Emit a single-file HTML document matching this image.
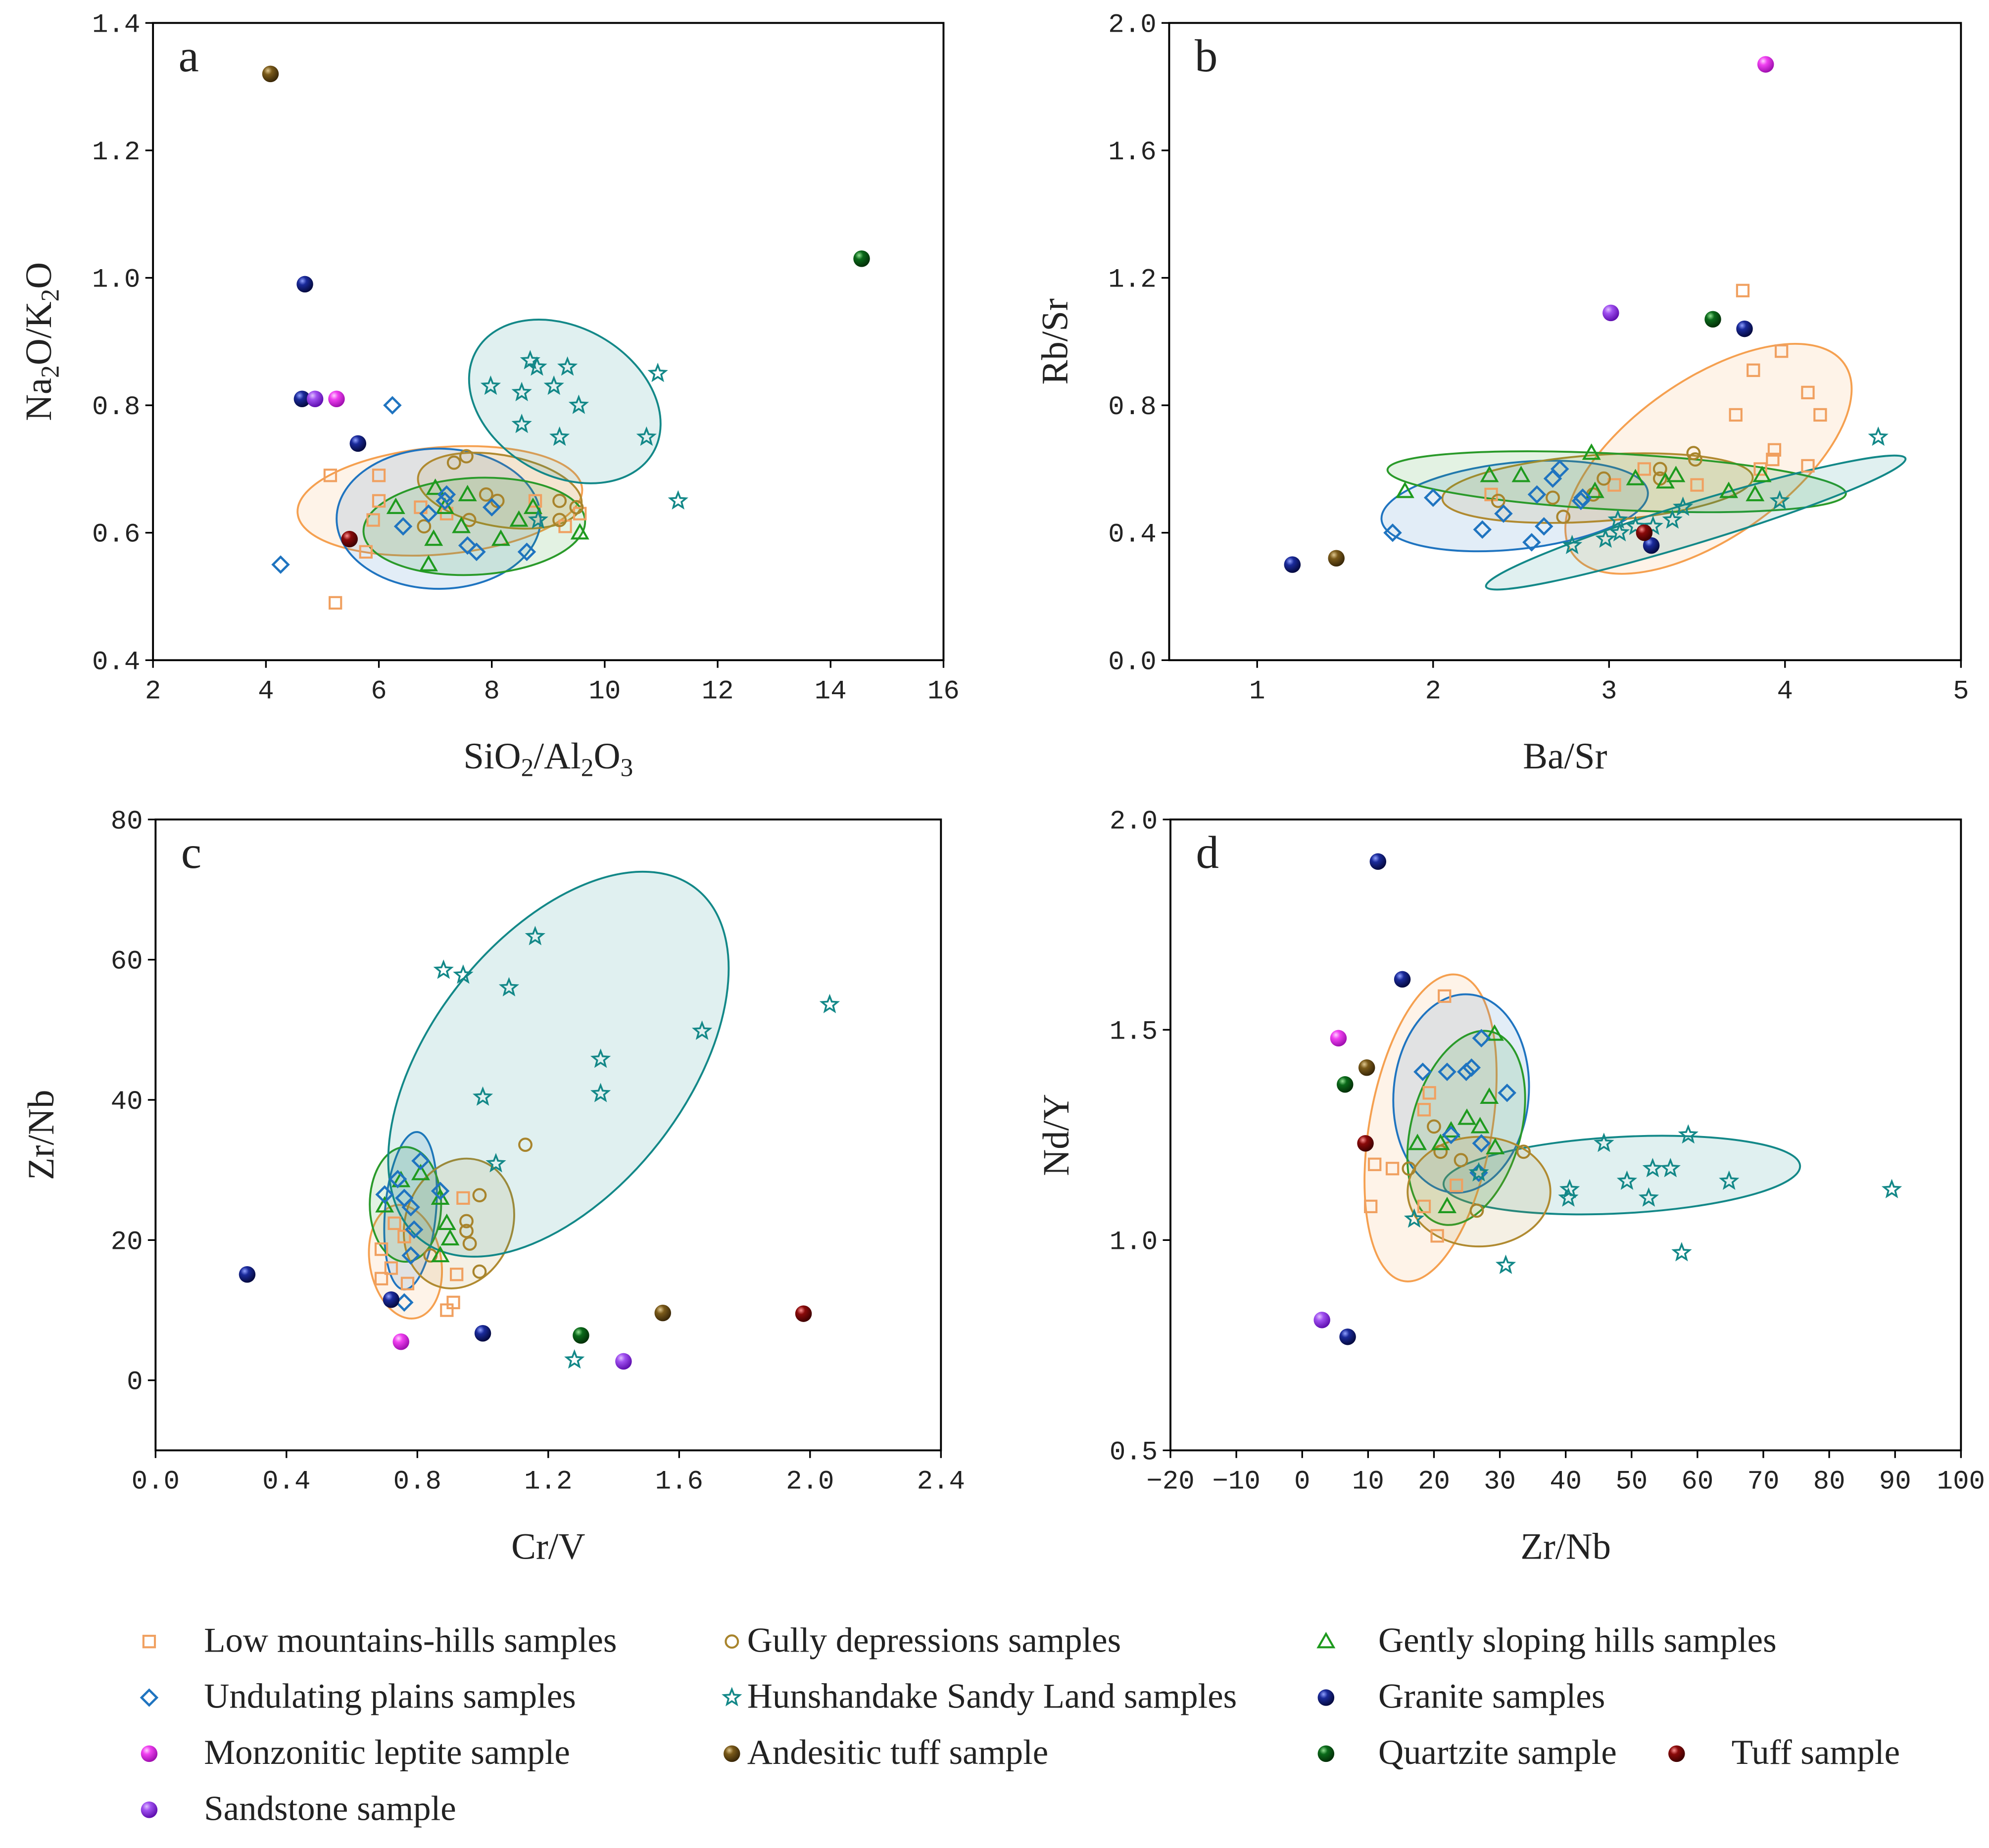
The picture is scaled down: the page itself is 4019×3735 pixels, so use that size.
<!DOCTYPE html>
<html><head><meta charset="utf-8"><style>
html,body{margin:0;padding:0;background:#fff;}
svg{display:block;}
text{font-family:"Liberation Serif",serif;fill:#222;}
.tick{font-family:"Liberation Mono",monospace;}
</style></head><body>
<svg id="fig" width="4019" height="3735" viewBox="0 0 1560 1450" preserveAspectRatio="none" xmlns="http://www.w3.org/2000/svg">
<defs>
<radialGradient id="g-granite" cx="35%" cy="30%" r="70%"><stop offset="0" stop-color="#8fa0ff"/><stop offset="0.35" stop-color="#1a2a9a"/><stop offset="1" stop-color="#050a40"/></radialGradient>
<radialGradient id="g-monz" cx="35%" cy="30%" r="70%"><stop offset="0" stop-color="#ffd0ff"/><stop offset="0.35" stop-color="#f040f0"/><stop offset="1" stop-color="#a010b0"/></radialGradient>
<radialGradient id="g-sand" cx="35%" cy="30%" r="70%"><stop offset="0" stop-color="#e0c0ff"/><stop offset="0.35" stop-color="#a050f0"/><stop offset="1" stop-color="#6010b0"/></radialGradient>
<radialGradient id="g-andes" cx="35%" cy="30%" r="70%"><stop offset="0" stop-color="#e0c890"/><stop offset="0.35" stop-color="#7a5a1a"/><stop offset="1" stop-color="#3a2808"/></radialGradient>
<radialGradient id="g-quartz" cx="35%" cy="30%" r="70%"><stop offset="0" stop-color="#90e090"/><stop offset="0.35" stop-color="#0a6a1a"/><stop offset="1" stop-color="#033008"/></radialGradient>
<radialGradient id="g-tuff" cx="35%" cy="30%" r="70%"><stop offset="0" stop-color="#ff9090"/><stop offset="0.35" stop-color="#8a0a0a"/><stop offset="1" stop-color="#400000"/></radialGradient>
</defs>
</svg>
<script>
// ---------- DATA ----------
const aLowX=[5.14,6.0,5.23,5.77,5.9,6.0,6.74,7.2,8.77,9.56,9.3];
const aLowY=[0.69,0.69,0.49,0.57,0.62,0.65,0.64,0.63,0.65,0.63,0.61];
const aGulX=[7.55,7.33,7.9,8.1,9.2,9.2,9.5,7.6,6.8];
const aGulY=[0.72,0.71,0.66,0.65,0.65,0.62,0.64,0.62,0.61];
const aGenX=[6.3,7.0,7.57,7.46,6.97,6.88,8.16,8.48,8.73,9.56,7.17];
const aGenY=[0.64,0.67,0.66,0.61,0.59,0.55,0.59,0.62,0.64,0.60,0.64];
const aUndX=[6.24,4.26,6.43,7.17,6.88,8.0,7.57,7.73,8.62,7.2];
const aUndY=[0.80,0.55,0.61,0.65,0.63,0.64,0.58,0.57,0.57,0.66];
const aHunX=[7.98,8.68,8.8,9.34,8.53,9.1,9.54,8.53,9.2,10.94,10.74,11.3,8.82];
const aHunY=[0.83,0.87,0.86,0.86,0.82,0.83,0.80,0.77,0.75,0.85,0.75,0.65,0.62];
const aGraX=[4.69,4.64,5.63]; const aGraY=[0.99,0.81,0.74];
const aMonX=[5.25]; const aMonY=[0.81];
const aSanX=[4.87]; const aSanY=[0.81];
const aAndX=[4.08]; const aAndY=[1.32];
const aQuaX=[14.55]; const aQuaY=[1.03];
const aTufX=[5.48]; const aTufY=[0.59];
const aXTicks=["2","4","6","8","10","12","14","16"];
const aYTicks=["0.4","0.6","0.8","1.0","1.2","1.4"];
const bLowX=[3.76,3.82,3.98,3.72,4.13,4.2,3.94,3.93,4.13,3.86,3.5,3.2,3.03,2.33];
const bLowY=[1.16,0.91,0.97,0.77,0.84,0.77,0.66,0.63,0.61,0.60,0.55,0.60,0.55,0.52];
const bGulX=[3.48,3.49,3.29,3.29,2.97,2.91,2.74,2.37,2.68];
const bGulY=[0.65,0.63,0.60,0.57,0.57,0.52,0.45,0.50,0.51];
const bGenX=[2.9,2.32,2.5,2.92,3.15,3.32,3.38,3.68,3.83,3.87,1.84];
const bGenY=[0.65,0.58,0.58,0.53,0.57,0.56,0.58,0.53,0.52,0.58,0.53];
const bUndX=[1.77,2.0,2.28,2.4,2.59,2.68,2.72,2.56,2.63,2.85,2.84];
const bUndY=[0.40,0.51,0.41,0.46,0.52,0.57,0.60,0.37,0.42,0.51,0.50];
const bHunX=[4.53,3.97,3.42,3.36,3.25,3.15,3.06,2.98,2.79,3.05];
const bHunY=[0.70,0.50,0.48,0.44,0.42,0.42,0.40,0.38,0.36,0.44];
const bGraX=[3.77,1.2,3.24]; const bGraY=[1.04,0.30,0.36];
const bMonX=[3.89]; const bMonY=[1.87];
const bSanX=[3.01]; const bSanY=[1.09];
const bAndX=[1.45]; const bAndY=[0.32];
const bQuaX=[3.59]; const bQuaY=[1.07];
const bTufX=[3.2]; const bTufY=[0.40];
const bXTicks=["1","2","3","4","5"];
const bYTicks=["0.0","0.4","0.8","1.2","1.6","2.0"];
const cLowX=[0.69,0.72,0.77,0.69,0.76,0.89,0.91,0.92,0.94,0.73];
const cLowY=[18.7,16,13.8,14.5,20.5,10,11.1,15.1,26,22.4];
const cGulX=[1.13,0.99,0.95,0.95,0.96,0.99,0.84];
const cGulY=[33.6,26.4,22.7,21.3,19.5,15.5,17.8];
const cGenX=[0.70,0.75,0.81,0.87,0.89,0.90,0.87];
const cGenY=[24.9,28.5,29.5,26,22.4,20.2,17.8];
const cUndX=[0.81,0.70,0.76,0.78,0.79,0.78,0.76,0.87,0.74];
const cUndY=[31.3,26.5,26,24.7,21.5,17.8,11.1,27,28.7];
const cHunX=[0.88,0.94,1.16,1.08,1.67,2.06,1.36,1.36,1.0,1.04,1.28];
const cHunY=[58.5,57.8,63.3,56,49.8,53.6,45.8,40.9,40.4,30.9,2.9];
const cGraX=[0.28,0.72,1.0]; const cGraY=[15.1,11.5,6.7];
const cMonX=[0.75]; const cMonY=[5.5];
const cSanX=[1.43]; const cSanY=[2.7];
const cAndX=[1.55]; const cAndY=[9.6];
const cQuaX=[1.3]; const cQuaY=[6.4];
const cTufX=[1.98]; const cTufY=[9.5];
const cXTicks=["0.0","0.4","0.8","1.2","1.6","2.0","2.4"];
const cYTicks=["0","20","40","60","80"];
const dLowX=[21.6,19.3,18.5,10.4,11,13.7,18.5,20.5,23.4];
const dLowY=[1.58,1.35,1.31,1.08,1.18,1.17,1.08,1.01,1.13];
const dGulX=[20,21,24.1,26.5,33.6,16.2];
const dGulY=[1.27,1.21,1.19,1.07,1.21,1.17];
const dGenX=[29.2,28.4,25,27,22.6,17.5,21,29.3,22];
const dGenY=[1.49,1.34,1.29,1.27,1.26,1.23,1.23,1.22,1.08];
const dUndX=[18.3,22,24.9,25.7,27.2,31.1,22.6,27.2,26.8];
const dUndY=[1.40,1.40,1.40,1.41,1.48,1.35,1.25,1.23,1.16];
const dHunX=[89.5,58.6,45.8,53.2,55.9,64.8,49.3,52.6,40.6,40.4,57.6,30.9,17,26.8];
const dHunY=[1.12,1.25,1.23,1.17,1.17,1.14,1.14,1.10,1.12,1.10,0.97,0.94,1.05,1.16];
const dGraX=[11.5,15.2,6.9]; const dGraY=[1.90,1.62,0.77];
const dMonX=[5.5]; const dMonY=[1.48];
const dSanX=[3.0]; const dSanY=[0.81];
const dAndX=[9.8]; const dAndY=[1.41];
const dQuaX=[6.5]; const dQuaY=[1.37];
const dTufX=[9.6]; const dTufY=[1.23];
const dXTicks=["−20","−10","0","10","20","30","40","50","60","70","80","90","100"];
const dYTicks=["0.5","1.0","1.5","2.0"];

// ---------- RENDER ----------
const NS="http://www.w3.org/2000/svg";
const svg=document.getElementById('fig');
function mk(tag,attrs,parent){const e=document.createElementNS(NS,tag);for(const k in attrs)e.setAttribute(k,attrs[k]);(parent||svg).appendChild(e);return e;}

const COL={low:'#f0a060',gul:'#a8842c',gen:'#1e9a1e',und:'#1f74c0',hun:'#138888'};
function marker(type,px,py,g){
  let e;
  if(type==='low'){e=mk('rect',{x:px-4.5,y:py-4.5,width:9,height:9,fill:'none',stroke:COL.low,'stroke-width':1.6},g);}
  else if(type==='gul'){e=mk('circle',{cx:px,cy:py,r:4.8,fill:'none',stroke:COL.gul,'stroke-width':1.6},g);}
  else if(type==='gen'){e=mk('polygon',{points:`${px},${py-6} ${px+6},${py+4.5} ${px-6},${py+4.5}`,fill:'none',stroke:COL.gen,'stroke-width':1.6},g);}
  else if(type==='und'){e=mk('polygon',{points:`${px},${py-6} ${px+6},${py} ${px},${py+6} ${px-6},${py}`,fill:'none',stroke:COL.und,'stroke-width':1.8},g);}
  else if(type==='hun'){let p=[];for(let i=0;i<10;i++){const r=i%2?2.8:6.5;const a=-Math.PI/2+i*Math.PI/5;p.push((px+r*Math.cos(a)).toFixed(2)+','+(py+r*Math.sin(a)).toFixed(2));}
    e=mk('polygon',{points:p.join(' '),fill:'none',stroke:COL.hun,'stroke-width':1.4},g);}
  else {e=mk('circle',{cx:px,cy:py,r:6.5,fill:'url(#g-'+type+')'},g);}
  return e;
}

function panel(cfg){
  const g=mk('g',{});
  
  
  const X=v=>cfg.x0+(v-cfg.xmin)/(cfg.xmax-cfg.xmin)*(cfg.x1-cfg.x0);
  const Y=v=>cfg.y1-(v-cfg.ymin)/(cfg.ymax-cfg.ymin)*(cfg.y1-cfg.y0);
  cfg.ell.forEach(el=>{
    const e=mk('ellipse',{cx:el[1],cy:el[2],rx:el[3],ry:el[4],transform:`rotate(${el[5]} ${el[1]} ${el[2]})`,fill:el[6],'fill-opacity':0.13,stroke:el[6],'stroke-width':1.5},g);
    
    
  });
  const fr=mk('rect',{x:cfg.x0,y:cfg.y0,width:cfg.x1-cfg.x0,height:cfg.y1-cfg.y0,fill:'none',stroke:'#000','stroke-width':1.5},g);
  
  
  cfg.xt.forEach(t=>{const v=parseFloat(t.replace('−','-'));const px=X(v);
    mk('line',{x1:px,x2:px,y1:cfg.y1,y2:cfg.y1+6,stroke:'#000','stroke-width':1.3},g);
    const tx=mk('text',{x:px,y:cfg.y1+30,'text-anchor':'middle','font-size':21,class:'tick'},g);tx.textContent=t;
    
    });
  cfg.yt.forEach(t=>{const v=parseFloat(t);const py=Y(v);
    mk('line',{x1:cfg.x0-6,x2:cfg.x0,y1:py,y2:py,stroke:'#000','stroke-width':1.3},g);
    const tx=mk('text',{x:cfg.x0-10,y:py+7,'text-anchor':'end','font-size':21,class:'tick'},g);tx.textContent=t;
    
    });
  const xtE=mk('text',{x:(cfg.x0+cfg.x1)/2,y:cfg.y1+85,'text-anchor':'middle','font-size':29},g);xtE.innerHTML=cfg.xtitle;
  
  
  const cy=(cfg.y0+cfg.y1)/2;
  const ytE=mk('text',{x:cfg.x0-80,y:cy,'text-anchor':'middle','font-size':29,transform:`rotate(-90 ${cfg.x0-80} ${cy})`},g);ytE.innerHTML=cfg.ytitle;
  
  
  const lt=mk('text',{x:cfg.x0+20,y:cfg.y0+38,'font-size':36},g);lt.textContent=cfg.id;
  
  
  cfg.series.forEach(s=>{
    s[1].forEach((xv,i)=>{const m=marker(s[0],X(xv),Y(s[2][i]),g);
      
      });
  });
}
const ORG='#f5a050',GUL='#b08a30',GRN='#2a9a2a',BLU='#1f74c0',TEA='#138888';
panel({id:'a',x0:120,x1:740,y0:18,y1:518,xmin:2,xmax:16,ymin:0.4,ymax:1.4,xt:aXTicks,yt:aYTicks,
  xtitle:'SiO<tspan dy="6" font-size="20">2</tspan><tspan dy="-6">/Al</tspan><tspan dy="6" font-size="20">2</tspan><tspan dy="-6">O</tspan><tspan dy="6" font-size="20">3</tspan>',
  ytitle:'Na<tspan dy="6" font-size="20">2</tspan><tspan dy="-6">O/K</tspan><tspan dy="6" font-size="20">2</tspan><tspan dy="-6">O</tspan>',
  ell:[['low',345,393,112,42,-5,ORG],['und',344,407,80,55,0,BLU],['gul',392,385,65,28,10,GUL],['gen',372,413,87,38,-3,GRN],['hun',443,315,80,58,30,TEA]],
  series:[['low',aLowX,aLowY],['gul',aGulX,aGulY],['gen',aGenX,aGenY],['und',aUndX,aUndY],['hun',aHunX,aHunY],['granite',aGraX,aGraY],['monz',aMonX,aMonY],['sand',aSanX,aSanY],['andes',aAndX,aAndY],['quartz',aQuaX,aQuaY],['tuff',aTufX,aTufY]]});
panel({id:'b',x0:917,x1:1538,y0:18,y1:518,xmin:0.5,xmax:5,ymin:0,ymax:2.0,xt:bXTicks,yt:bYTicks,
  xtitle:'Ba/Sr',ytitle:'Rb/Sr',
  ell:[['low',1340,360,130,62,-35,ORG],['und',1188,397,105,34,-6,BLU],['gul',1253,383,122,26,-4,GUL],['gen',1268,378,180,22,3,GRN],['hun',1330,410,172,16,-17,TEA]],
  series:[['low',bLowX,bLowY],['gul',bGulX,bGulY],['gen',bGenX,bGenY],['und',bUndX,bUndY],['hun',bHunX,bHunY],['granite',bGraX,bGraY],['monz',bMonX,bMonY],['sand',bSanX,bSanY],['andes',bAndX,bAndY],['quartz',bQuaX,bQuaY],['tuff',bTufX,bTufY]]});
panel({id:'c',x0:122,x1:738,y0:643,y1:1138,xmin:0,xmax:2.4,ymin:-10,ymax:80,xt:cXTicks,yt:cYTicks,
  xtitle:'Cr/V',ytitle:'Zr/Nb',
  ell:[['low',318,990,28,45,-10,ORG],['und',322,950,20,62,5,BLU],['gen',318,945,28,45,0,GRN],['gul',360,960,42,52,20,GUL],['hun',438,835,175,100,-52,TEA]],
  series:[['low',cLowX,cLowY],['gul',cGulX,cGulY],['gen',cGenX,cGenY],['und',cUndX,cUndY],['hun',cHunX,cHunY],['granite',cGraX,cGraY],['monz',cMonX,cMonY],['sand',cSanX,cSanY],['andes',cAndX,cAndY],['quartz',cQuaX,cQuaY],['tuff',cTufX,cTufY]]});
panel({id:'d',x0:918,x1:1538,y0:643,y1:1138,xmin:-20,xmax:100,ymin:0.5,ymax:2.0,xt:dXTicks,yt:dYTicks,
  xtitle:'Zr/Nb',ytitle:'Nd/Y',
  ell:[['hun',1272,922,140,30,-3,TEA],['low',1122,885,48,122,10,ORG],['und',1146,858,53,78,5,BLU],['gen',1150,885,43,78,15,GRN],['gul',1160,935,56,43,0,GUL]],
  series:[['low',dLowX,dLowY],['gul',dGulX,dGulY],['gen',dGenX,dGenY],['und',dUndX,dUndY],['hun',dHunX,dHunY],['granite',dGraX,dGraY],['monz',dMonX,dMonY],['sand',dSanX,dSanY],['andes',dAndX,dAndY],['quartz',dQuaX,dQuaY],['tuff',dTufX,dTufY]]});

const leg=mk('g',{});


[['low',117,160,1296,'Low mountains-hills samples'],['gul',574,586,1296,'Gully depressions samples'],['gen',1040,1081,1296,'Gently sloping hills samples'],
 ['und',117,160,1340,'Undulating plains samples'],['hun',574,586,1340,'Hunshandake Sandy Land samples'],['granite',1040,1081,1340,'Granite samples'],
 ['monz',117,160,1384,'Monzonitic leptite sample'],['andes',574,586,1384,'Andesitic tuff sample'],['quartz',1040,1081,1384,'Quartzite sample'],['tuff',1315,1330,1384,'Tuff sample'],
 ['sand',117,160,1428,'Sandstone sample']].forEach(l=>{
  const m=marker(l[0],l[1],l[3]-8,leg);
  
  
  const t=mk('text',{x:l[2]+(l[0]==='tuff'?28:0),y:l[3],'font-size':27.5},leg);t.textContent=l[4];
  
  
});
</script>
</body></html>
